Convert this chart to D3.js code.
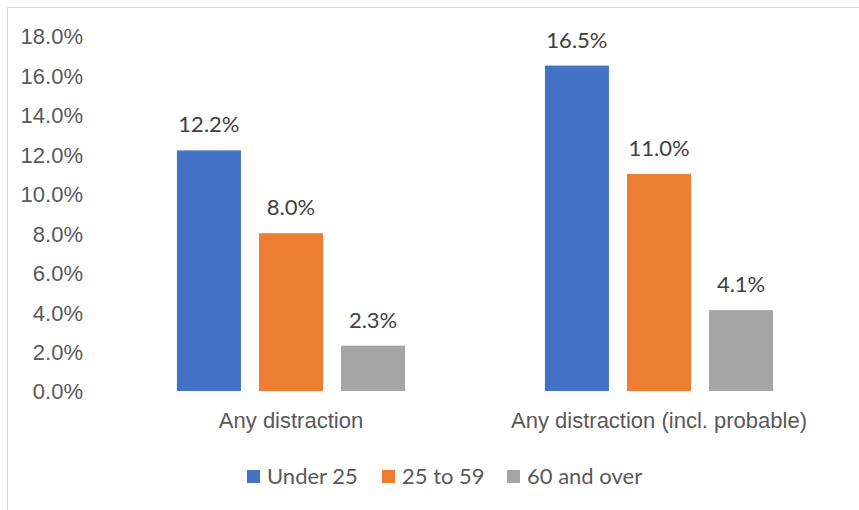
<!DOCTYPE html>
<html lang="en">
<head>
    <meta charset="UTF-8">
    <title>Distraction by age group</title>
    <script src="https://d3js.org/d3.v7.min.js"></script>
    <style>
        body {
            margin: 0;
            background: #fff;
            font-family: Lato, 'Open Sans', sans-serif;
        }
        .axis text {
            fill: #595959;
            font-size: 22px;
        }
        .axis path, .axis line {
            display: none;
        }
        line.grid-line {
            stroke: #d9d9d9;
            stroke-width: 1.3;
        }
        .label {
            fill: #404040;
            font-size: 22px;
        }
        .legend text {
            fill: #595959;
            font-size: 22px;
        }
    </style>
</head>
<body>
<script>
    var categories = ["Any distraction", "Any distraction (incl. probable)"];
    var groups = ["Under 25", "25 to 59", "60 and over"];
    var under25 = [12.2, 16.5];
    var age25to59 = [8.0, 11.0];
    var age60plus = [2.3, 4.1];
    var yTicks = [0, 2, 4, 6, 8, 10, 12, 14, 16, 18];
    var colors = ["#4472c4", "#ed7d31", "#a5a5a5"];

    var series = [under25, age25to59, age60plus];

    var W = 859, H = 510;
    var margin = { top: 36, right: 16, bottom: 119, left: 107 };
    var width = W - margin.left - margin.right,
        height = H - margin.top - margin.bottom;

    var svg = d3.select("body").append("svg")
        .attr("width", W)
        .attr("height", H);

    // chart frame (only left and top show in the original crop)
    svg.append("path")
        .attr("d", "M7.5,510 L7.5,7.5 L859,7.5")
        .attr("fill", "none")
        .attr("stroke", "#d9d9d9")
        .attr("stroke-width", 1);

    var g = svg.append("g")
        .attr("transform", "translate(" + margin.left + "," + margin.top + ")");

    var y = d3.scaleLinear().domain([0, 18]).range([height, 0]);

    var x0 = d3.scaleBand().domain(categories).range([0, width]).paddingInner(0).paddingOuter(0);

    // group = 3 bars of 64px with 18px gaps
    var groupW = x0.bandwidth() * 0.62;
    var x1 = d3.scaleBand().domain(groups).range([0, groupW]).paddingInner(0.22).paddingOuter(0);

    var yAxis = d3.axisLeft(y)
        .tickValues(yTicks)
        .tickSize(0)
        .tickPadding(24)
        .tickFormat(function(d) { return d.toFixed(1) + "%"; });

    var ya = g.append("g")
        .attr("class", "y axis")
        .call(yAxis);

    ya.selectAll("g.tick")
        .append("line")
        .classed("grid-line", true)
        .attr("x1", 0)
        .attr("x2", width)
        .attr("y1", 0)
        .attr("y2", 0);

    ya.selectAll("g.tick text").attr("dy", "0.36em");

    var xa = g.append("g")
        .attr("class", "x axis")
        .attr("transform", "translate(0," + height + ")")
        .call(d3.axisBottom(x0).tickSize(0).tickPadding(21));

    xa.selectAll("text").attr("dy", "0.71em");

    var rows = [];
    categories.forEach(function(c, i) {
        groups.forEach(function(s, j) {
            rows.push({ cat: c, grp: s, value: series[j][i], color: colors[j] });
        });
    });

    var offset = (x0.bandwidth() - groupW) / 2;

    g.selectAll(".bar")
        .data(rows)
        .enter().append("rect")
        .attr("class", "bar")
        .attr("x", function(d) { return x0(d.cat) + offset + x1(d.grp); })
        .attr("width", x1.bandwidth())
        .attr("y", function(d) { return y(d.value); })
        .attr("height", function(d) { return height - y(d.value); })
        .attr("fill", function(d) { return d.color; });

    g.selectAll(".label")
        .data(rows)
        .enter().append("text")
        .attr("class", "label")
        .attr("text-anchor", "middle")
        .attr("x", function(d) { return x0(d.cat) + offset + x1(d.grp) + x1.bandwidth() / 2; })
        .attr("y", function(d) { return y(d.value) - 18; })
        .text(function(d) { return d.value.toFixed(1) + "%"; });

    // legend
    var legend = svg.append("g")
        .attr("class", "legend")
        .attr("transform", "translate(247,470)");

    var legendX = [0, 135, 260];
    var item = legend.selectAll("g")
        .data(groups)
        .enter().append("g")
        .attr("transform", function(d, i) { return "translate(" + legendX[i] + ",0)"; });

    item.append("rect")
        .attr("width", 13)
        .attr("height", 13)
        .attr("fill", function(d, i) { return colors[i]; });

    item.append("text")
        .attr("x", 20)
        .attr("y", 6.5)
        .attr("dy", "0.36em")
        .text(function(d) { return d; });
</script>
</body>
</html>
